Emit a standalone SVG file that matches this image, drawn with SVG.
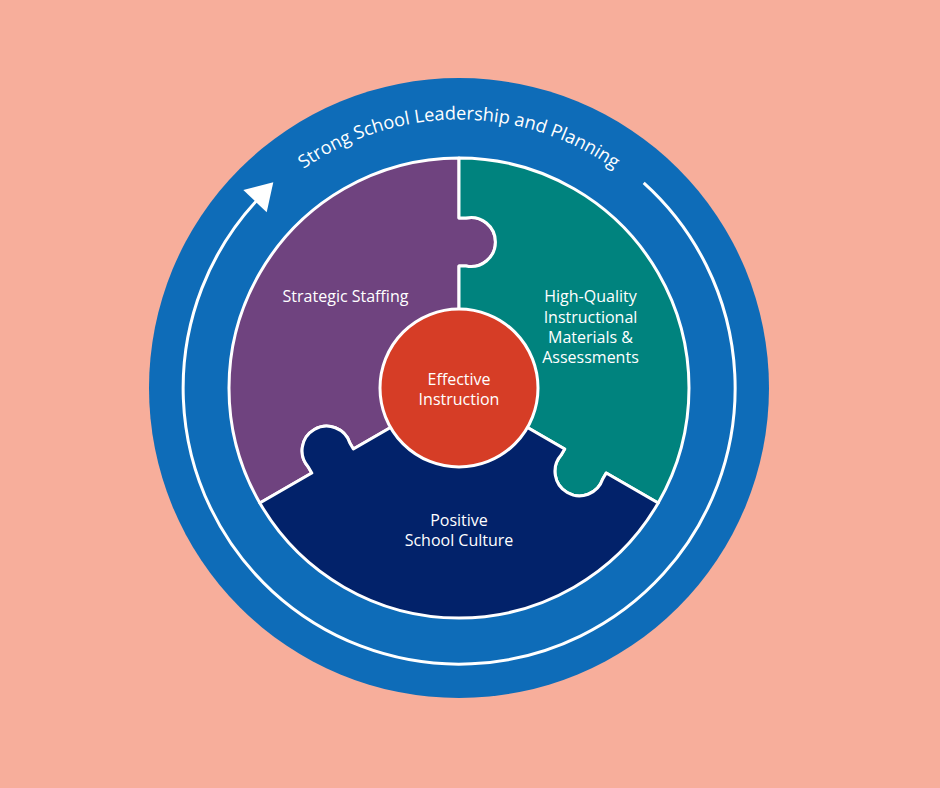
<svg xmlns="http://www.w3.org/2000/svg" xmlns:xlink="http://www.w3.org/1999/xlink" width="940" height="788" viewBox="0 0 940 788">
  <style>
    .lbl { font-family: "Open Sans", "Noto Sans", "Liberation Sans", sans-serif; font-size: 16px; fill: #ffffff; text-anchor: middle; }
    .arc { font-family: "Open Sans", "Noto Sans", "Liberation Sans", sans-serif; font-size: 18.2px; fill: #ffffff; }
    .piece { stroke: #ffffff; stroke-width: 3; stroke-linejoin: round; }
  </style>
  <defs>
    <path id="pieceShape" d="M0,0 L-105.66,61 L-109.16,54.94 A24.5,24.5 0 1 0 -150.72,78.94 L-147.22,85 L-199.19,115 A230,230 0 0 1 0,-230 L0,-170 L7,-170 A24.5,24.5 0 1 1 7,-122 L0,-122 Z"/>
    <path id="arcText" d="M206.7,296.2 A268.5,268.5 0 0 1 711.3,296.2" fill="none"/>
  </defs>
  <rect x="0" y="0" width="940" height="788" fill="#F7AE9B"/>
  <g id="outer-ring">
    <circle cx="459" cy="388" r="310" fill="#0E6CB8"/>
    <text class="arc"><textPath xlink:href="#arcText" href="#arcText" startOffset="50%" text-anchor="middle">Strong School Leadership and Planning</textPath></text>
  </g>
  <g id="connectors">
    <path d="M643.7,182.9 A276,276 0 1 1 257,200.2" fill="none" stroke="#ffffff" stroke-width="3"/>
    <polygon points="273.3,182.3 243.3,190 266.7,212.3" fill="#ffffff"/>
  </g>
  <g id="strategic-staffing">
    <use href="#pieceShape" xlink:href="#pieceShape" class="piece" fill="#6F437F" transform="translate(459,388)"/>
    <text class="lbl" x="345.5" y="302">Strategic Staffing</text>
  </g>
  <g id="hqim">
    <use href="#pieceShape" xlink:href="#pieceShape" class="piece" fill="#00837E" transform="translate(459,388) rotate(120)"/>
    <text class="lbl" x="590.5" y="302">High-Quality</text>
    <text class="lbl" x="590.5" y="322.5">Instructional</text>
    <text class="lbl" x="590.5" y="343">Materials &amp;</text>
    <text class="lbl" x="590.5" y="363">Assessments</text>
  </g>
  <g id="positive-culture">
    <use href="#pieceShape" xlink:href="#pieceShape" class="piece" fill="#02226A" transform="translate(459,388) rotate(240)"/>
    <text class="lbl" x="459" y="526">Positive</text>
    <text class="lbl" x="459" y="546">School Culture</text>
  </g>
  <g id="effective-instruction">
    <circle cx="459" cy="388" r="79" fill="#D63D26" stroke="#ffffff" stroke-width="3"/>
    <text class="lbl" x="459" y="385">Effective</text>
    <text class="lbl" x="459" y="405">Instruction</text>
  </g>
</svg>
